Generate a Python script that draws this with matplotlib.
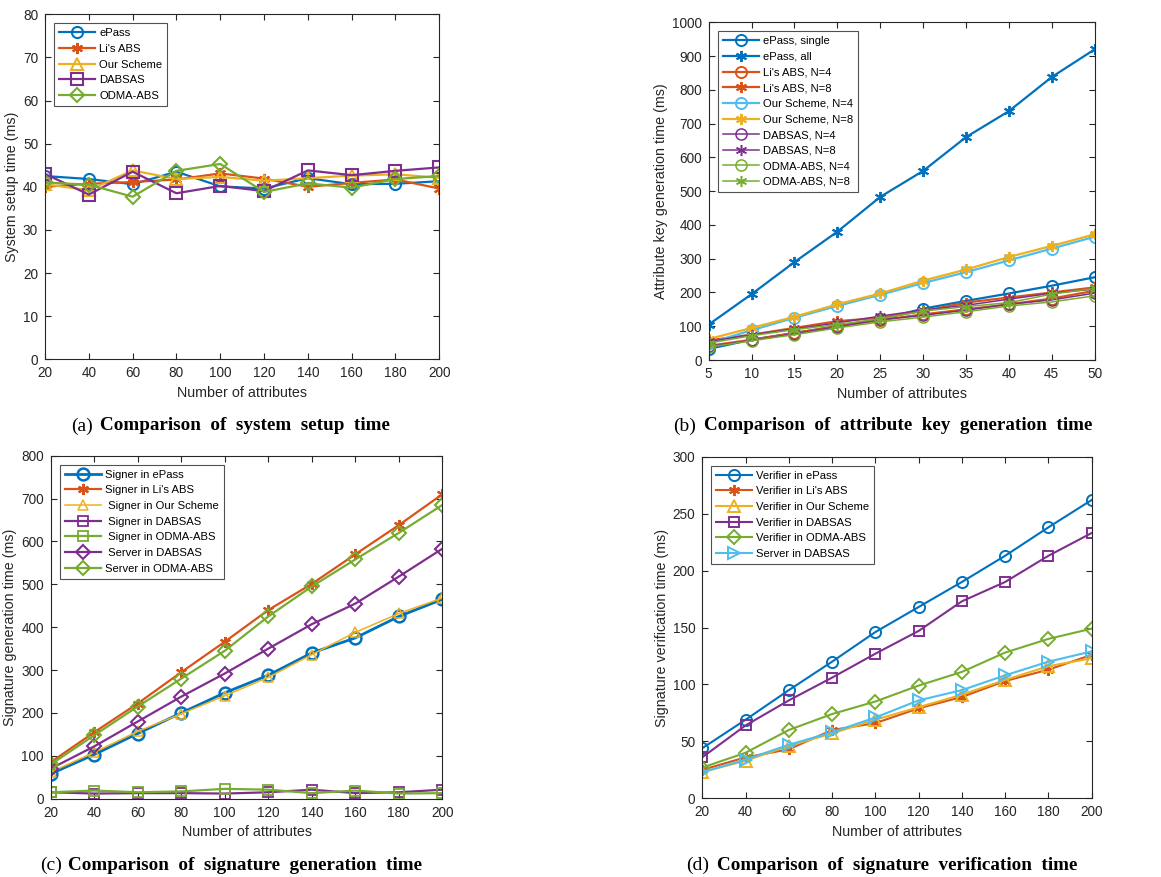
import matplotlib
matplotlib.use("Agg")
from matplotlib import pyplot as plt
import numpy as np

plt.rcParams['font.family'] = ['Liberation Sans', 'DejaVu Sans']

BLUE = '#0072BD'
ORANGE = '#D95319'
YELLOW = '#EDB120'
PURPLE = '#7E2F8E'
GREEN = '#77AC30'
CYAN = '#4DBEEE'
DARK = '#262626'
STAR = (6, 2, 0)

# (a) system setup time
attrs = [20, 40, 60, 80, 100, 120, 140, 160, 180, 200]
setup_epass = [42.5, 41.8, 40.6, 43.5, 40.1, 39.6, 42.0, 40.6, 40.7, 41.3]
setup_li = [40.0, 40.7, 41.1, 41.7, 43.1, 41.9, 40.0, 40.9, 41.7, 39.6]
setup_ours = [40.6, 39.2, 43.8, 41.8, 42.3, 41.4, 42.0, 42.6, 42.9, 42.1]
setup_dabsas = [43.0, 38.2, 43.5, 38.5, 40.2, 39.0, 43.8, 42.7, 43.7, 44.5]
setup_odma = [41.0, 40.5, 37.7, 43.7, 45.3, 38.8, 40.8, 39.8, 41.8, 42.5]

# (b) attribute key generation time
key_attrs = [5, 10, 15, 20, 25, 30, 35, 40, 45, 50]
key_epass_single = [33, 60, 80, 100, 120, 152, 175, 197, 220, 245]
key_epass_all = [105, 195, 290, 380, 483, 560, 660, 737, 838, 920]
key_li_4 = [42, 60, 80, 100, 118, 135, 150, 165, 182, 205]
key_li_8 = [58, 75, 95, 115, 125, 145, 170, 185, 200, 215]
key_ours_4 = [50, 88, 125, 160, 193, 228, 260, 295, 330, 365]
key_ours_8 = [62, 95, 128, 165, 197, 235, 268, 305, 338, 372]
key_dabsas_4 = [40, 58, 78, 98, 120, 132, 148, 165, 178, 198]
key_dabsas_8 = [55, 75, 92, 110, 130, 148, 162, 180, 198, 210]
key_odma_4 = [38, 57, 75, 95, 113, 127, 143, 160, 172, 190]
key_odma_8 = [50, 72, 90, 105, 122, 145, 158, 170, 195, 212]

# (c) signature generation time
gen_epass = [58, 103, 152, 200, 247, 288, 340, 375, 425, 465]
gen_li = [85, 155, 222, 295, 366, 440, 501, 570, 638, 710]
gen_ours = [62, 108, 157, 198, 240, 283, 336, 388, 432, 468]
gen_dabsas_signer = [15, 12, 13, 13, 12, 15, 21, 13, 15, 21]
gen_odma_signer = [15, 19, 15, 17, 23, 21, 13, 19, 12, 13]
gen_dabsas_server = [70, 122, 180, 238, 292, 350, 407, 455, 518, 583]
gen_odma_server = [80, 148, 215, 280, 345, 425, 495, 558, 620, 685]

# (d) signature verification time
ver_epass = [44, 69, 95, 120, 146, 168, 190, 213, 238, 262]
ver_li = [25, 36, 43, 60, 66, 79, 89, 103, 113, 126]
ver_ours = [23, 33, 46, 57, 69, 80, 91, 104, 116, 123]
ver_dabsas = [36, 64, 86, 106, 127, 147, 173, 190, 213, 233]
ver_odma = [27, 40, 60, 74, 85, 99, 111, 128, 140, 149]
ver_dabsas_server = [23, 34, 47, 58, 71, 86, 95, 108, 120, 129]

W, H = 1161, 877
fig = plt.figure(figsize=(W / 100, H / 100), dpi=100)


def make_axes(x0, y0, x1, y1):
    ax = fig.add_axes([x0 / W, 1 - y1 / H, (x1 - x0) / W, (y1 - y0) / H])
    for s in ax.spines.values():
        s.set_color(DARK)
        s.set_linewidth(0.8)
    ax.tick_params(direction='in', top=True, right=True, length=4,
                   width=0.8, colors=DARK, labelsize=9.8, pad=5)
    return ax


def finish(ax, xticks, ylim, ystep, ylabel):
    ax.set_xlim(xticks[0], xticks[-1])
    ax.set_xticks(xticks)
    ax.set_ylim(*ylim)
    ax.set_yticks(np.arange(ylim[0], ylim[1] + 1, ystep))
    ax.set_xlabel('Number of attributes', fontsize=10.3, color=DARK, labelpad=4)
    ax.set_ylabel(ylabel, fontsize=10.3, color=DARK, labelpad=3)
    leg = ax.legend(loc='upper left', fontsize=8.1, frameon=True, fancybox=False,
                    borderaxespad=0.8, handlelength=3.2, handletextpad=0.35,
                    labelspacing=0.5, borderpad=0.45)
    leg.get_frame().set_edgecolor(DARK)
    leg.get_frame().set_linewidth(0.8)


def caption(x_tag, x_text, y, tag, text):
    fig.text(x_tag / W, 1 - y / H, tag, fontsize=14, family='Liberation Serif',
             va='center', ha='left')
    fig.text(x_text / W, 1 - y / H, text, fontsize=13.8, family='Liberation Serif',
             weight='bold', va='center', ha='left')


# ---- (a)
ax = make_axes(45, 14.3, 439.3, 359.3)
kw = dict(lw=1.6, ms=8, mew=1.5, mfc='none')
ax.plot(attrs, setup_epass, color=BLUE, marker='o', label='ePass', **kw)
ax.plot(attrs, setup_li, color=ORANGE, marker=STAR, label="Li's ABS", **kw)
ax.plot(attrs, setup_ours, color=YELLOW, marker='^', label='Our Scheme', **kw)
ax.plot(attrs, setup_dabsas, color=PURPLE, marker='s', label='DABSAS', **kw)
ax.plot(attrs, setup_odma, color=GREEN, marker='D', label='ODMA-ABS',
        lw=1.6, ms=7, mew=1.5, mfc='none')
finish(ax, attrs, (0, 80), 10, 'System setup time (ms)')
caption(71.5, 100.5, 426, '(a)', 'Comparison  of  system  setup  time')

# ---- (b)
ax = make_axes(708.7, 22.3, 1094.7, 360)
kt = dict(lw=1.6, ms=8, mew=1.4, mfc='none')
kn = dict(lw=1.1, ms=8, mew=1.1, mfc='none')
ax.plot(key_attrs, key_epass_single, color=BLUE, marker='o', label='ePass, single', **kt)
ax.plot(key_attrs, key_epass_all, color=BLUE, marker=STAR, label='ePass, all', **kt)
ax.plot(key_attrs, key_li_4, color=ORANGE, marker='o', label="Li's ABS, N=4", **kt)
ax.plot(key_attrs, key_li_8, color=ORANGE, marker=STAR, label="Li's ABS, N=8", **kt)
ax.plot(key_attrs, key_ours_4, color=CYAN, marker='o', label='Our Scheme, N=4', **kt)
ax.plot(key_attrs, key_ours_8, color=YELLOW, marker=STAR, label='Our Scheme, N=8', **kt)
ax.plot(key_attrs, key_dabsas_4, color=PURPLE, marker='o', label='DABSAS, N=4', **kn)
ax.plot(key_attrs, key_dabsas_8, color=PURPLE, marker=STAR, label='DABSAS, N=8', **kn)
ax.plot(key_attrs, key_odma_4, color=GREEN, marker='o', label='ODMA-ABS, N=4', **kn)
ax.plot(key_attrs, key_odma_8, color=GREEN, marker=STAR, label='ODMA-ABS, N=8', **kn)
finish(ax, key_attrs, (0, 1000), 100, 'Attribute key generation time (ms)')
caption(673, 704, 426, '(b)', 'Comparison  of  attribute  key  generation  time')

# ---- (c)
ax = make_axes(50.7, 455.7, 442.3, 798.7)
kc = dict(lw=1.6, ms=8, mew=1.5, mfc='none')
ks = dict(lw=1.6, ms=6.5, mew=1.3, mfc='none')
ax.plot(attrs, gen_epass, color=BLUE, marker='o', label='Signer in ePass', lw=2.0,
        ms=8.5, mew=1.8, mfc='none')
ax.plot(attrs, gen_li, color=ORANGE, marker=STAR, label="Signer in Li's ABS", **kc)
ax.plot(attrs, gen_ours, color=YELLOW, marker='^', label=' Signer in Our Scheme',
        lw=1.1, ms=6.5, mew=1.1, mfc='none')
ax.plot(attrs, gen_dabsas_signer, color=PURPLE, marker='s', label=' Signer in DABSAS', **ks)
ax.plot(attrs, gen_odma_signer, color=GREEN, marker='s', label=' Signer in ODMA-ABS', **ks)
ax.plot(attrs, gen_dabsas_server, color=PURPLE, marker='D', label=' Server in DABSAS',
        lw=1.6, ms=7, mew=1.5, mfc='none')
ax.plot(attrs, gen_odma_server, color=GREEN, marker='D', label='Server in ODMA-ABS',
        lw=1.6, ms=7, mew=1.5, mfc='none')
finish(ax, attrs, (0, 800), 100, 'Signature generation time (ms)')
caption(40, 68.3, 865, '(c)', 'Comparison  of  signature  generation  time')

# ---- (d)
ax = make_axes(702.3, 456.7, 1091.7, 798.3)
kd = dict(lw=1.5, ms=8, mew=1.4, mfc='none')
ax.plot(attrs, ver_epass, color=BLUE, marker='o', label='Verifier in ePass', **kd)
ax.plot(attrs, ver_li, color=ORANGE, marker=STAR, label="Verifier in Li's ABS", **kd)
ax.plot(attrs, ver_ours, color=YELLOW, marker='^', label='Verifier in Our Scheme', **kd)
ax.plot(attrs, ver_dabsas, color=PURPLE, marker='s', label='Verifier in DABSAS',
        lw=1.5, ms=7, mew=1.4, mfc='none')
ax.plot(attrs, ver_odma, color=GREEN, marker='D', label='Verifier in ODMA-ABS',
        lw=1.5, ms=7, mew=1.4, mfc='none')
ax.plot(attrs, ver_dabsas_server, color=CYAN, marker='>', label='Server in DABSAS', **kd)
finish(ax, attrs, (0, 300), 50, 'Signature verification time (ms)')
caption(686, 716.7, 865, '(d)', 'Comparison  of  signature  verification  time')

fig.savefig('out.png', dpi=100)
